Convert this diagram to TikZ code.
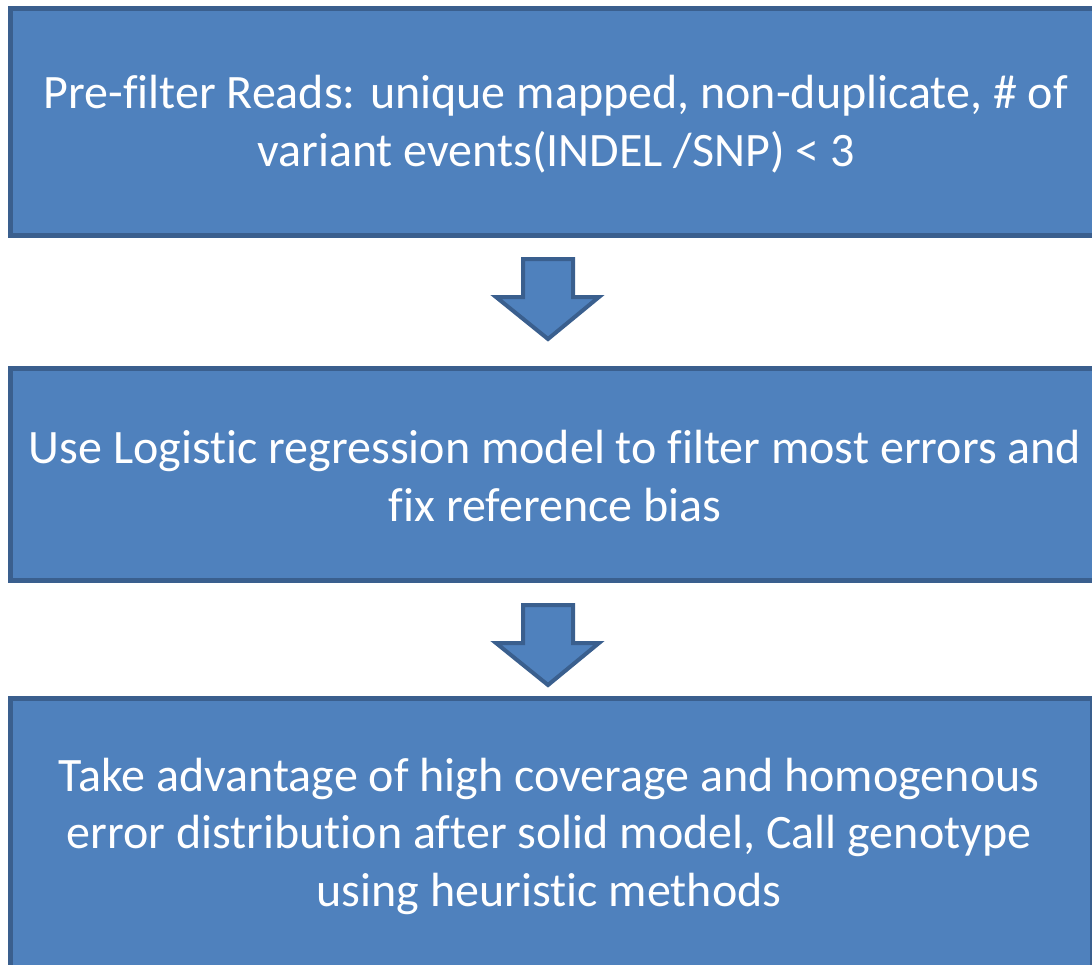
\documentclass[tikz,border=0pt]{standalone}
\usepackage{fontspec}
\setmainfont{Carlito}[Ligatures=NoCommon]
\definecolor{boxfill}{HTML}{4F81BD}
\definecolor{boxline}{HTML}{3A5F8E}
\begin{document}
\begin{tikzpicture}[x=1pt,y=1pt,
  stepbox/.style={draw=boxline, fill=boxfill, line width=4.5pt, rectangle, inner sep=0pt, anchor=north west},
  steptext/.style={text=white, align=center, inner sep=0pt, font=\fontsize{48}{57.5}\selectfont},
  blockarrow/.style={draw=boxline, fill=boxfill, line width=4pt, line join=miter}]
\useasboundingbox (0,0) rectangle (1092,-964);
\clip (0,0) rectangle (1092,-964);
\node[stepbox, minimum width=1092pt, minimum height=227pt] (b1) at (8,-6) {};
\node[steptext] (t1) at (556,-124)
  {Pre-filter Reads: unique mapped, non-duplicate, \# of\\variant events(INDEL /SNP) < 3};
\node[stepbox, minimum width=1092pt, minimum height=212pt] (b2) at (8,-366) {};
\node[steptext] (t2) at (555,-476)
  {Use Logistic regression model to filter most errors and\\fix reference bias};
\node[stepbox, minimum width=1082pt, minimum height=290pt] (b3) at (8,-696) {};
\node[steptext] (t3) at (549,-836)
  {Take advantage of high coverage and homogenous\\error distribution after solid model, Call genotype\\using heuristic methods};
\foreach \n/\top in {a1/-259, a2/-605} {
  \coordinate (\n) at (548,\top);
  \draw[blockarrow] (\n) ++(-25,0) -- ++(50,0) -- ++(0,-38) -- ++(26,0) -- ++(-51,-42) -- ++(-52,42) -- ++(27,0) -- cycle;
}
\end{tikzpicture}
\end{document}
